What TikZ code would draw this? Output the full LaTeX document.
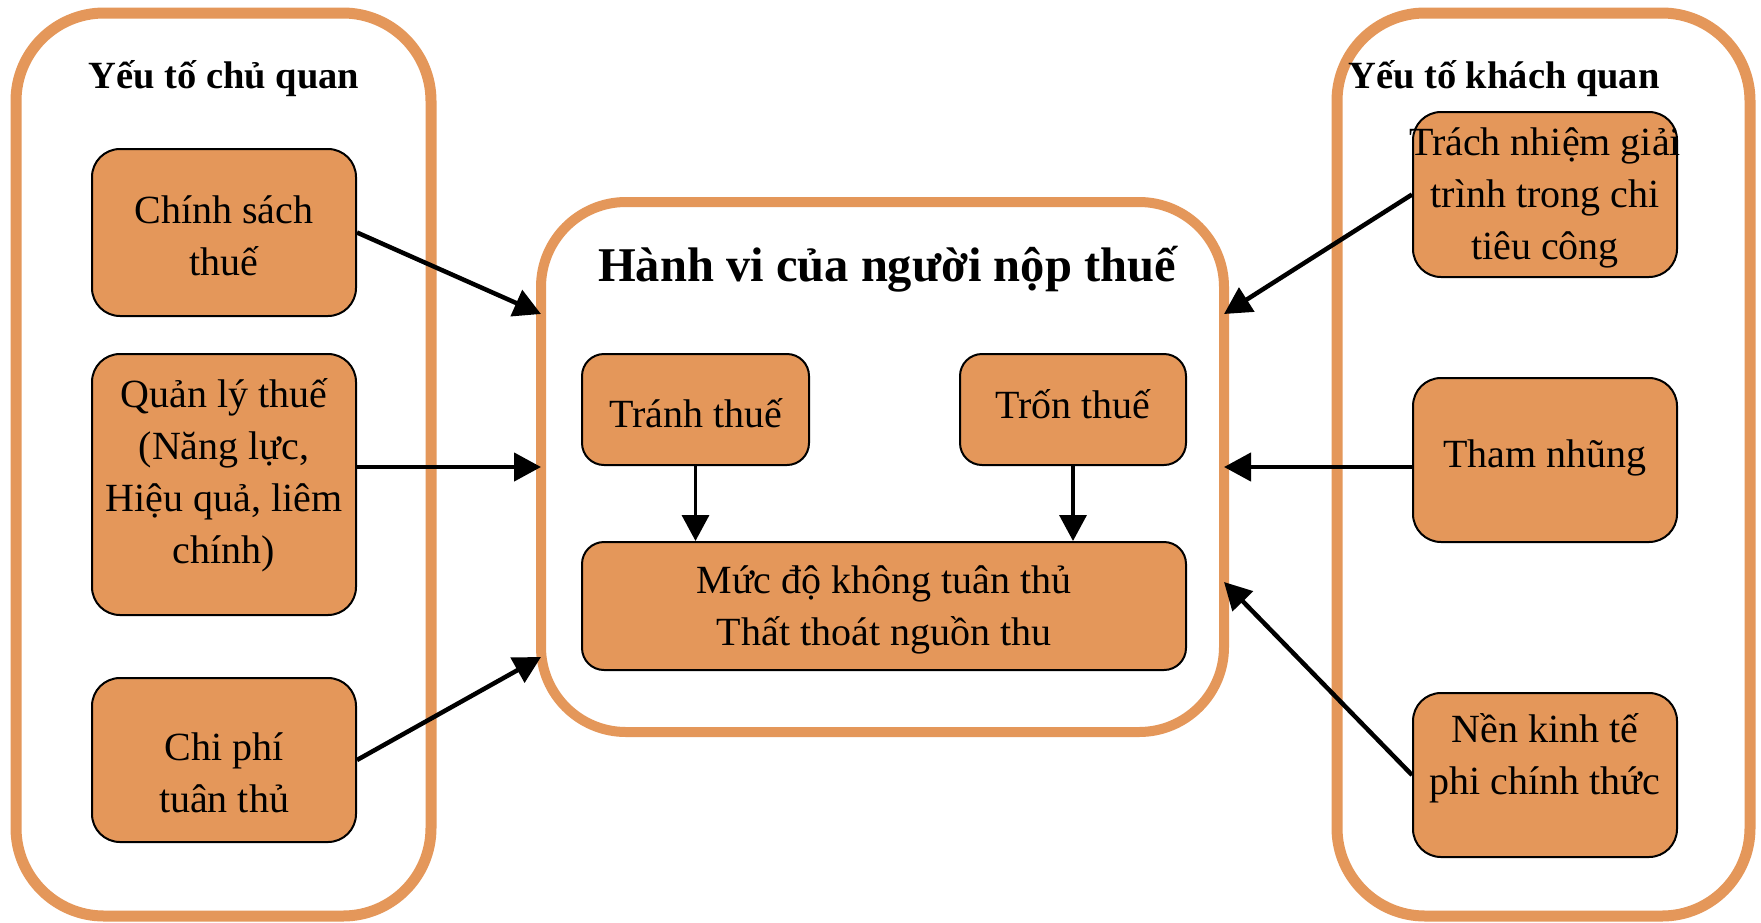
\documentclass[tikz,border=0pt]{standalone}
\usepackage{fontspec}
\setmainfont{Liberation Serif}
\usetikzlibrary{arrows.meta}
\definecolor{org}{HTML}{E4975A}
\begin{document}
\begin{tikzpicture}[x=1pt,y=-1pt,
 outerbox/.style={draw=org, line width=11pt, rounded corners=88pt, rectangle, inner sep=0pt},
 midbox/.style={draw=org, line width=10pt, rounded corners=85pt, rectangle, inner sep=0pt, outer sep=0pt},
 cbox/.style={draw=black, fill=org, line width=2pt, rounded corners=28pt, rectangle, inner sep=0pt, minimum width=264pt},
 txt/.style={align=center, font=\fontsize{40}{52}\selectfont, inner sep=0pt},
 ttl/.style={font=\fontsize{38.5}{46}\selectfont\bfseries, inner sep=0pt, anchor=base},
 arr/.style={line width=4.5pt, -{Triangle[length=27pt,width=28pt]}},
 varr/.style={line width=3.5pt, -{Triangle[length=26pt,width=27pt]}}]
\useasboundingbox[fill=white] (0,0) rectangle (1761,922);

% outer frames
\node[outerbox, minimum width=415pt, minimum height=903pt] (L) at (223.5,464.5) {};
\node[outerbox, minimum width=413pt, minimum height=903pt] (R) at (1543.5,464.5) {};
\node[midbox, minimum width=683pt, minimum height=530pt] (M) at (882.5,467) {};

% titles
\node[ttl] (tL) at (224,88) {Yếu tố chủ quan};
\node[ttl] (tR) at (1504,88) {Yếu tố khách quan};
\node[ttl, font=\fontsize{48.5}{56}\selectfont\bfseries] (tM) at (887,281) {Hành vi của người nộp thuế};

% left boxes
\node[cbox, minimum height=167pt] (cs) at (224,232.5) {};
\node[txt] (cst) at (224,236) {Chính sách\\thuế};
\node[cbox, minimum height=261pt] (ql) at (224,484.5) {};
\node[txt] (qlt) at (224,475.5) {Quản lý thuế\\(Năng lực,\\Hiệu quả, liêm\\chính)};
\node[cbox, minimum height=164pt] (cp) at (224,760) {};
\node[txt] (cpt) at (224,773) {Chi phí\\tuân thủ};

% middle boxes
\node[cbox, rounded corners=22pt, minimum width=227pt, minimum height=111pt] (tr) at (695.5,409.5) {};
\node[txt] (trt) at (695.5,413) {Tránh thuế};
\node[cbox, rounded corners=22pt, minimum width=226pt, minimum height=111pt] (to) at (1073,409.5) {};
\node[txt] (tot) at (1073,404) {Trốn thuế};
\node[cbox, rounded corners=22pt, minimum width=604pt, minimum height=128pt] (md) at (884,606) {};
\node[txt] (mdt) at (884,610) {Mức độ không tuân thủ\\Thất thoát nguồn thu};

% right boxes
\node[cbox, minimum height=165pt] (tn) at (1545,194.5) {};
\node[txt] (tnt) at (1545,198) {Trách nhiệm giải\\trình trong chi\\tiêu công};
\node[cbox, minimum height=164pt] (th) at (1545,460) {};
\node[txt] (tht) at (1545,457.5) {Tham nhũng};
\node[cbox, minimum height=164pt] (nk) at (1545,775) {};
\node[txt] (nkt) at (1545,758) {Nền kinh tế\\phi chính thức};

% connectors
\draw[arr] (cs.east) -- ([yshift=153pt]M.west);
\draw[arr] (ql.east |- M.west) -- (M.west);
\draw[arr] (cp.east) -- ([yshift=-190pt]M.west);
\draw[arr] (tn.west) -- ([yshift=153pt]M.east);
\draw[arr] (th.west |- M.east) -- (M.east);
\draw[arr] (nk.west) -- ([yshift=-115pt]M.east);
\draw[varr] (tr.south) -- (tr.south |- md.north);
\draw[varr] (to.south) -- (to.south |- md.north);
\end{tikzpicture}
\end{document}
